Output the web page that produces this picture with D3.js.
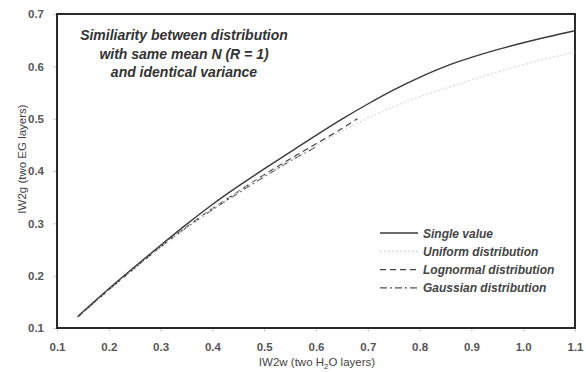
<!DOCTYPE html>
<html>
<head>
<meta charset="utf-8">
<script src="https://cdn.jsdelivr.net/npm/d3@7"></script>
<style>
  body { margin: 0; background: #fff; }
  svg text { font-family: "Liberation Sans", Arial, sans-serif; }
</style>
</head>
<body>
<div id="chart"></div>
<script>
const xTicks = [0.1, 0.2, 0.3, 0.4, 0.5, 0.6, 0.7, 0.8, 0.9, 1.0, 1.1];
const yTicks = [0.1, 0.2, 0.3, 0.4, 0.5, 0.6, 0.7];

const singleX = [0.14, 0.2, 0.25, 0.3, 0.35, 0.4, 0.45, 0.5, 0.55, 0.6, 0.65, 0.7, 0.75, 0.8, 0.85, 0.9, 0.95, 1.0, 1.05, 1.1];
const singleY = [0.122, 0.175, 0.217, 0.258, 0.298, 0.336, 0.371, 0.404, 0.436, 0.468, 0.499, 0.528, 0.555, 0.579, 0.6, 0.617, 0.632, 0.645, 0.657, 0.668];

const uniformX = [0.14, 0.2, 0.3, 0.35, 0.4, 0.45, 0.5, 0.55, 0.6, 0.65, 0.7, 0.75, 0.8, 0.85, 0.9, 0.95, 1.0, 1.05, 1.1];
const uniformY = [0.121, 0.173, 0.255, 0.292, 0.327, 0.36, 0.391, 0.42, 0.448, 0.476, 0.501, 0.523, 0.542, 0.558, 0.574, 0.589, 0.603, 0.616, 0.627];

const lognormalX = [0.14, 0.2, 0.3, 0.35, 0.4, 0.45, 0.5, 0.55, 0.6, 0.65, 0.68];
const lognormalY = [0.121, 0.173, 0.255, 0.293, 0.328, 0.361, 0.393, 0.423, 0.452, 0.481, 0.5];

const gaussianX = [0.14, 0.2, 0.3, 0.35, 0.4, 0.45, 0.5, 0.55, 0.6];
const gaussianY = [0.121, 0.173, 0.255, 0.292, 0.326, 0.358, 0.389, 0.419, 0.446];

const titleLines = ['Similiarity between distribution', 'with same mean N (R = 1)', 'and identical variance'];

const series = [
  { name: 'Single value', xs: singleX, ys: singleY, color: '#3a3a3a', dash: null, w: 1.4 },
  { name: 'Uniform distribution', xs: uniformX, ys: uniformY, color: '#dcdcdc', dash: '2,2', w: 1.4 },
  { name: 'Lognormal distribution', xs: lognormalX, ys: lognormalY, color: '#444', dash: '6,4', w: 1.2 },
  { name: 'Gaussian distribution', xs: gaussianX, ys: gaussianY, color: '#555', dash: '7,3,2,3', w: 1.2 }
];

const margin = { top: 14, right: 11, bottom: 44, left: 57 };
const width = 586 - margin.left - margin.right;
const height = 372 - margin.top - margin.bottom;

const svg = d3.select('#chart').append('svg')
  .attr('width', 586)
  .attr('height', 372)
  .append('g')
  .attr('transform', `translate(${margin.left},${margin.top})`);

const x = d3.scaleLinear().domain([0.1, 1.1]).range([0, width]);
const y = d3.scaleLinear().domain([0.1, 0.7]).range([height, 0]);

// Axes
svg.append('g')
  .attr('transform', `translate(0,${height})`)
  .call(d3.axisBottom(x).tickValues(xTicks).tickFormat(d3.format('.1f')).tickSize(4).tickPadding(11))
  .call(g => g.select('.domain').remove())
  .call(g => g.selectAll('line').attr('stroke', '#ccc'))
  .selectAll('text')
  .style('font-size', '11.5px')
  .style('font-weight', 'bold')
  .style('fill', '#555');

svg.append('g')
  .call(d3.axisLeft(y).tickValues(yTicks).tickFormat(d3.format('.1f')).tickSize(4).tickPadding(9))
  .call(g => g.select('.domain').remove())
  .call(g => g.selectAll('line').attr('stroke', '#ccc'))
  .selectAll('text')
  .style('font-size', '11.5px')
  .style('font-weight', 'bold')
  .style('fill', '#555');

// Frame
svg.append('rect')
  .attr('width', width)
  .attr('height', height)
  .attr('fill', 'none')
  .attr('stroke', '#2a2a2a')
  .attr('stroke-width', 2);

// Lines
const line = d3.line()
  .x(d => x(d[0]))
  .y(d => y(d[1]))
  .curve(d3.curveCatmullRom);

series.slice().reverse().forEach(s => {
  svg.append('path')
    .datum(s.xs.map((v, i) => [v, s.ys[i]]))
    .attr('fill', 'none')
    .attr('stroke', s.color)
    .attr('stroke-width', s.w)
    .attr('stroke-dasharray', s.dash)
    .attr('d', line);
});

// Title
svg.append('text')
  .attr('y', 26)
  .attr('text-anchor', 'middle')
  .style('font-size', '14px')
  .style('font-weight', 'bold')
  .style('font-style', 'italic')
  .style('fill', '#333')
  .selectAll('tspan')
  .data(titleLines)
  .enter()
  .append('tspan')
  .attr('x', 127)
  .attr('dy', (d, i) => i === 0 ? 0 : 18.5)
  .text(d => d);

// Legend
const legend = svg.append('g').attr('transform', `translate(${380 - margin.left},${233 - margin.top})`);
series.forEach((s, i) => {
  const row = legend.append('g').attr('transform', `translate(0,${i * 18.3})`);
  row.append('line')
    .attr('x1', 0).attr('x2', 38)
    .attr('y1', 0).attr('y2', 0)
    .attr('stroke', s.color)
    .attr('stroke-width', s.w)
    .attr('stroke-dasharray', s.dash);
  row.append('text')
    .attr('x', 43)
    .attr('y', 4.5)
    .style('font-size', '12px')
    .style('font-weight', 'bold')
    .style('font-style', 'italic')
    .style('fill', '#444')
    .text(s.name);
});

// Axis titles
const xLabel = svg.append('text')
  .attr('x', width / 2 + 1)
  .attr('y', height + 38)
  .attr('text-anchor', 'middle')
  .style('font-size', '11.5px')
  .style('fill', '#444');
xLabel.append('tspan').text('IW2w (two H');
xLabel.append('tspan').attr('dy', 2.5).style('font-size', '8px').text('2');
xLabel.append('tspan').attr('dy', -2.5).text('O layers)');

svg.append('text')
  .attr('transform', 'rotate(-90)')
  .attr('x', -height / 2 + 12)
  .attr('y', -margin.left + 26)
  .attr('text-anchor', 'middle')
  .style('font-size', '11.5px')
  .style('fill', '#444')
  .text('IW2g (two EG layers)');
</script>
</body>
</html>
